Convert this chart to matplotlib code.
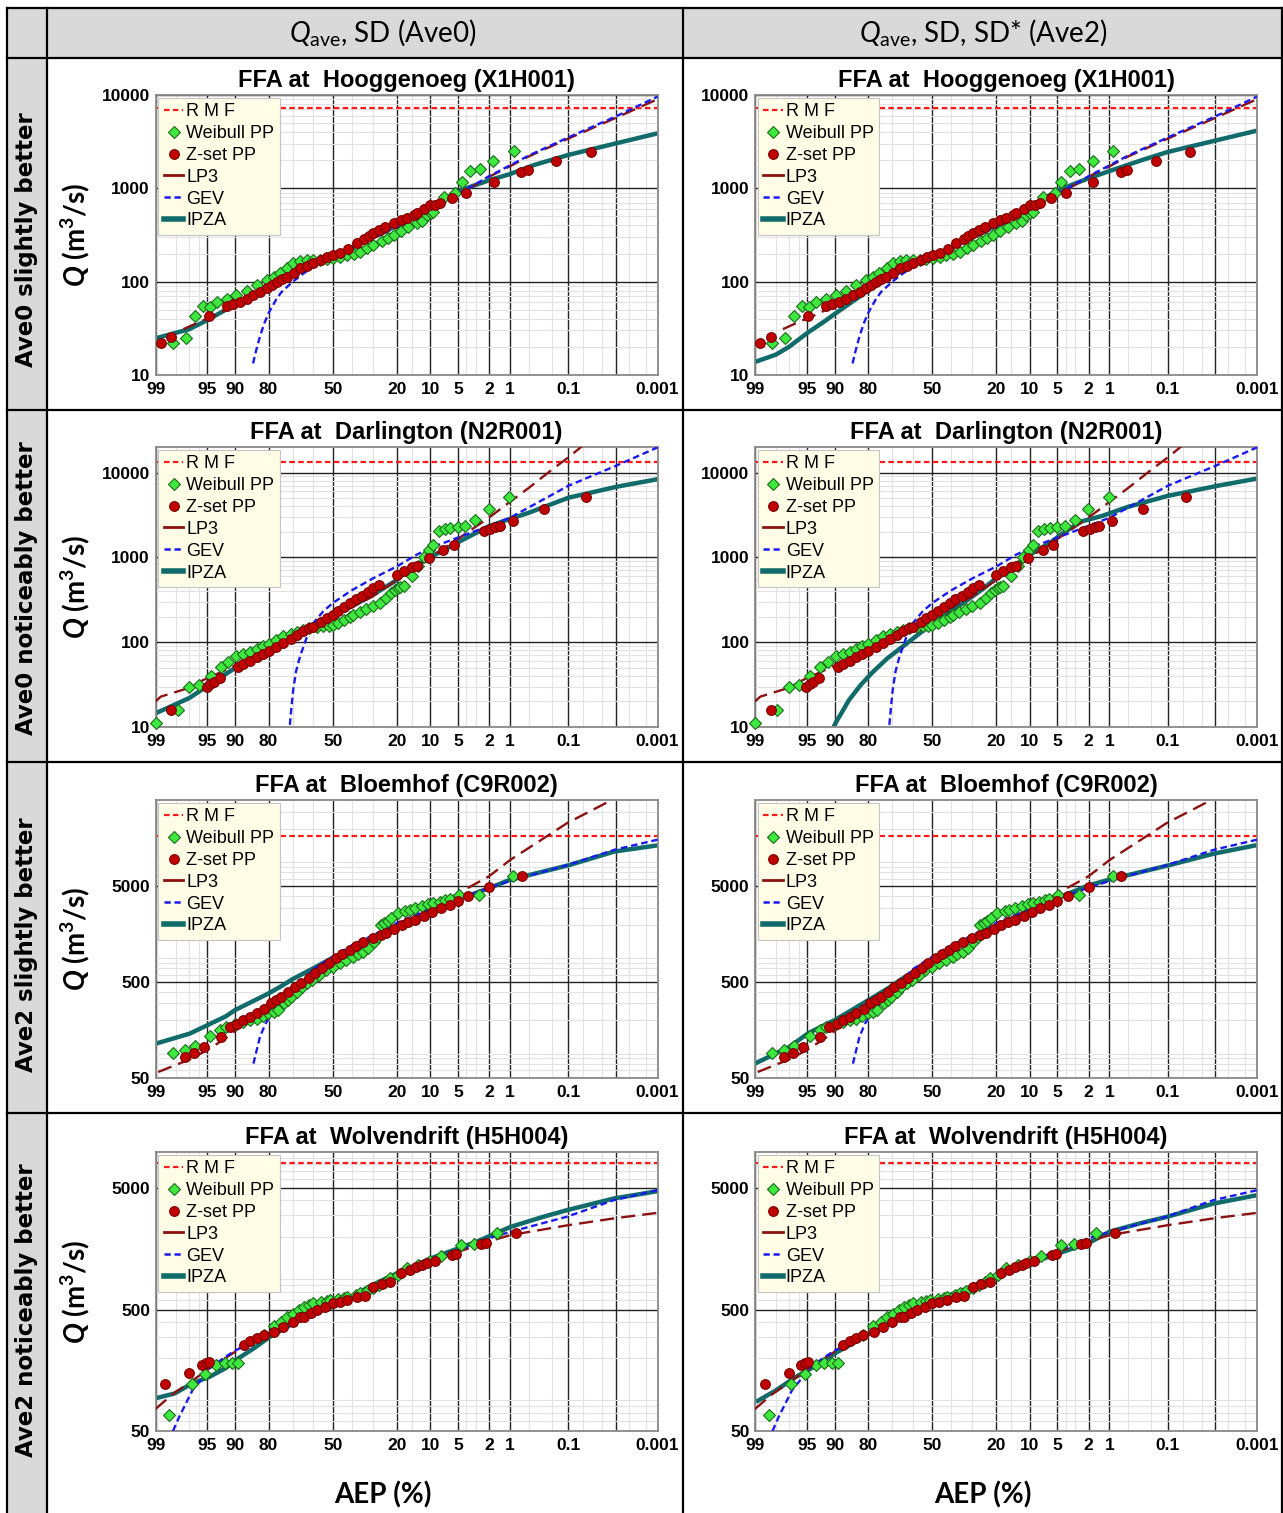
import numpy as np
import matplotlib
matplotlib.use("Agg")
import matplotlib.pyplot as plt
from matplotlib.lines import Line2D
from matplotlib.patches import Rectangle
from matplotlib.ticker import FixedLocator, NullFormatter, LogLocator
from matplotlib import font_manager as fm
from statistics import NormalDist

# ---------------- DATA (AEP in %, Q in m3/s) ----------------
STATIONS = ["FFA at  Hooggenoeg (X1H001)", "FFA at  Darlington (N2R001)",
            "FFA at  Bloemhof (C9R002)", "FFA at  Wolvendrift (H5H004)"]
ROW_LABELS = ["Ave0 slightly better", "Ave0 noticeably better",
              "Ave2 slightly better", "Ave2 noticeably better"]
COL_HEADERS = [r"$\mathit{Q}_{\mathrm{ave}}$, SD (Ave0)",
               r"$\mathit{Q}_{\mathrm{ave}}$, SD, SD* (Ave2)"]
X_TICKS = [99, 95, 90, 80, 50, 20, 10, 5, 2, 1, 0.1, 0.01, 0.001]
X_TICKLABELS = ["99", "95", "90", "80", "50", "20", "10", "5", "2", "1", "0.1", "", "0.001"]
X_MINOR = [98, 97, 96, 70, 60, 40, 30, 15, 4, 3, 0.5, 0.2, 0.05, 0.02, 0.005, 0.002]
Y_LIMS = [(10, 10000), (10, 20000), (50, 40000), (50, 10000)]
Y_TICKS = [[10, 100, 1000, 10000], [10, 100, 1000, 10000], [50, 500, 5000], [50, 500, 5000]]

# Hooggenoeg
HOOG_RMF = 7300
HOOG_WB_AEP = [98.2, 97.3, 96.5, 95.6, 94.7, 93.6, 91.8, 89.7, 87.1, 84.1, 80.7, 78, 75.6, 72.5, 69.8, 66.5,
               63.4, 60, 56.6, 53, 49.6, 46, 42.7, 39, 35.9, 32.5, 29.6, 26, 23.5, 21.2, 18.5, 16, 13.5, 12,
               10.8, 9.85, 9.3, 7.2, 5.38, 4.48, 3.54, 2.69, 1.76, 0.875]
HOOG_WB_Q = [21.8, 25, 43, 55, 54, 60, 66, 72, 80, 92, 104, 113, 123, 140, 157, 165,
             171, 172, 171, 175, 178, 185, 193, 200, 210, 228, 247, 275, 295, 316, 350, 385, 422, 450,
             518, 540, 562, 801, 900, 1179, 1534, 1600, 1977, 2512]
HOOG_ZS_AEP = [98.8, 98.3, 94.8, 91.8, 90.5, 88.9, 87, 85.2, 83, 80.7, 78.8, 76.9, 74.8, 72.7, 69.5, 66.6,
               63.2, 60, 56, 52.8, 49.6, 46, 42, 37.6, 34, 31.7, 29.6, 27, 24.5, 21.2, 18.5, 16.5, 14.4,
               13.5, 11.5, 10, 8.9, 7.9, 5.87, 3.97, 1.73, 0.67, 0.52, 0.167, 0.0355]
HOOG_ZS_Q = [21.8, 25.4, 42.9, 54.8, 58, 61, 66, 72, 78, 85, 92, 100, 106, 113, 125, 139,
             148, 157, 170, 182, 193, 205, 225, 258, 285, 305, 330, 360, 385, 422, 455, 485, 518,
             540, 600, 663, 663, 702, 782, 899, 1159, 1484, 1572, 1963, 2472]
HOOG_LP3_AEP = [97.5, 96, 93, 90, 85, 80, 70, 60, 50, 40, 30, 20, 10, 5, 2, 1, 0.5, 0.1, 0.01, 0.001]
HOOG_LP3_Q = [31, 37, 46, 57, 72, 88, 120, 150, 185, 230, 290, 380, 570, 850, 1330, 1720, 2200, 3400, 5700, 9000]
HOOG_GEV_AEP = [85.2, 84.5, 83, 81.5, 80, 77, 75, 70, 65, 60, 50, 40, 30, 20, 10, 5, 2, 1, 0.5, 0.1, 0.01, 0.001]
HOOG_GEV_Q = [13.3, 17, 26, 36, 46, 65, 77, 100, 122, 145, 187, 232, 292, 385, 580, 860, 1350, 1760, 2250,
              3500, 5900, 9600]
HOOG_IPZA0_AEP = [99, 97, 95, 92, 90, 85, 80, 70, 60, 50, 40, 30, 20, 10, 5, 4, 2, 1, 0.41, 0.1, 0.01, 0.001]
HOOG_IPZA0_Q = [24.7, 31, 38.8, 50, 58, 72, 88, 122, 152, 185, 232, 300, 400, 610, 930, 1000, 1220, 1420,
                1778, 2275, 3033, 3880]
HOOG_IPZA2_AEP = [99, 98, 97, 95, 92, 90, 85, 80, 70, 60, 50, 40, 30, 20, 10, 5, 2, 1, 0.3, 0.1, 0.01, 0.001]
HOOG_IPZA2_Q = [13.8, 16.5, 20, 28, 38, 45, 62, 80, 115, 150, 185, 232, 300, 400, 620, 950, 1280, 1530, 2000,
                2450, 3250, 4150]

# Darlington
DARL_RMF = 13150
DARL_WB_AEP = [99.0, 97.9, 97.0, 96.0, 94.5, 92.9, 91.5, 89.7, 88, 86, 84, 82, 80, 77, 74.2, 71, 68, 65, 62,
               58, 55, 52, 50, 47, 44, 41, 39.3, 36, 33, 30, 26.7, 24, 22, 20.5, 19.5, 18.8, 17.6, 15, 13,
               11.6, 10.2, 9.3, 8.2, 7.1, 6.14, 5.05, 4.08, 3.06, 2.03, 1.02]
DARL_WB_Q = [11, 15.9, 30, 31.3, 40, 50.7, 59, 67.8, 72, 77, 83, 89, 96, 106, 117, 124, 131, 138, 145,
             150, 154, 157, 160, 170, 182, 196, 210, 228, 246, 265, 289, 330, 375, 410, 430, 445, 454, 600, 782,
             1000, 1233, 1413, 2033, 2168, 2229, 2290, 2372, 2748, 3673, 5140]
DARL_ZS_AEP = [98.3, 95.1, 94.6, 94.1, 93.1, 89.3, 88, 86, 84, 82, 80, 77, 74.2, 71, 68, 65, 62, 60, 56, 53,
               50, 47, 44, 41, 38, 35, 32, 29.6, 27, 20, 17.6, 14.9, 13.5, 10.4, 7.3, 5.63, 2.37, 1.92, 1.63,
               1.42, 0.906, 0.28, 0.0436]
DARL_ZS_Q = [15.9, 30, 32, 34, 37.6, 51.6, 55, 60, 66, 72, 78, 88, 97, 110, 122, 135, 145, 153, 175, 192,
             210, 235, 260, 290, 320, 350, 390, 434, 470, 624, 682, 760, 800, 982, 1211, 1413, 2070, 2188, 2290,
             2372, 2673, 3673, 5140]
DARL_LP3_AEP = [99, 98.8, 97, 95.5, 93, 90, 85, 80, 70, 60, 50, 40, 30, 20, 10, 5, 2, 1, 0.5, 0.2, 0.1, 0.05]
DARL_LP3_Q = [20, 22.8, 29, 35.9, 44, 53, 68, 84, 118, 155, 200, 260, 345, 540, 1000, 1650, 2950, 4500, 6600,
              10800, 15000, 21000]
DARL_GEV_AEP = [71.3, 70.5, 69.8, 68.5, 66.6, 63, 60, 55, 50, 40, 29.6, 20, 13.5, 10, 5, 2, 1, 0.1, 0.01, 0.001]
DARL_GEV_Q = [10.6, 18, 27.3, 45, 67.8, 120, 168, 230, 289, 410, 570, 780, 1075, 1290, 1710, 2355, 2925, 6950,
              12000, 19770]
DARL_IPZA0_AEP = [99, 97, 95.1, 92, 89.7, 85, 80, 70, 60, 50, 40, 30, 20, 17.6, 15, 10.4, 7.3, 5.63, 2, 0.98,
                  0.5, 0.097, 0.0093, 0.001]
DARL_IPZA0_Q = [14.5, 22, 30, 42, 50.7, 66, 86, 122, 162, 205, 265, 360, 540, 640, 740, 982, 1211, 1413, 2333,
                2851, 3360, 5060, 6823, 8340]
DARL_IPZA2_AEP = [90.2, 89.5, 88.4, 86.3, 82.7, 78.5, 72.2, 65.1, 57.5, 50, 40, 32, 25, 19.2, 14, 9.3, 6, 4.24,
                  2.5, 1.3, 0.5, 0.1, 0.0093, 0.001]
DARL_IPZA2_Q = [10, 11.8, 14.4, 20.7, 31, 43.6, 64.5, 88.6, 122, 165, 235, 316, 430, 598, 800, 1130, 1500, 1950,
                2650, 3070, 3950, 5300, 6950, 8490]

# Bloemhof
BLOE_RMF = 16900
BLOE_WB_AEP = [98.2, 97.4, 96.5, 94.6, 93, 91.9, 90, 88, 86, 84, 82, 80.2, 78, 76.5, 73.7, 72, 70.6, 68, 65.8,
               63, 60.7, 57, 53.6, 50, 46.4, 43, 39.4, 37, 34.3, 32, 29.4, 27.5, 26.4, 25, 23.5, 22, 19.6, 17,
               15.5, 13.9, 12, 10.5, 9.3, 8, 7, 6.25, 4.92, 2.73, 0.894]
BLOE_WB_Q = [91.5, 99, 107, 137, 158, 171, 182, 193, 200, 209, 222, 236, 245, 256, 300, 325, 352, 400, 449,
             490, 527, 600, 670, 730, 787, 850, 925, 980, 1042, 1150, 1327, 1500, 1985, 2100, 2200, 2350, 2630,
             2750, 2850, 2965, 3100, 3250, 3350, 3480, 3600, 3690, 4090, 4060, 6365]
BLOE_ZS_AEP = [97.4, 96.6, 95.5, 92.9, 91.2, 89.5, 88, 86, 84, 81.5, 79.2, 77, 75.1, 72, 69.1, 66, 62.4, 59,
               55.4, 52, 48.2, 45, 41.1, 38, 34.3, 30, 26.4, 24, 21, 18.3, 16, 13.9, 11.5, 9.5, 7.8, 6.25, 5,
               3.74, 2.0, 0.65]
BLOE_ZS_Q = [83, 91.5, 106, 134, 171, 185, 201, 218, 236, 265, 300, 325, 352, 400, 449, 495, 549, 620,
             698, 790, 889, 980, 1086, 1200, 1327, 1450, 1560, 1650, 1800, 1985, 2120, 2240, 2480, 2735, 2975,
             3215, 3500, 3990, 4890, 6370]
BLOE_LP3_AEP = [98.9, 97, 95, 92, 90, 85, 80, 70, 60, 50, 40, 30, 20, 10, 4.92, 2, 0.98, 0.3, 0.104, 0.012]
BLOE_LP3_Q = [57.8, 78, 98, 130, 155, 215, 280, 420, 590, 820, 1080, 1420, 1980, 2850, 4260, 6400, 9500,
              15500, 22970, 40300]
BLOE_GEV_AEP = [85.1, 84, 83, 81.1, 78.5, 76.5, 70.6, 65, 60.7, 50, 40, 34.3, 20.2, 10, 5, 2, 1, 0.1, 0.0107, 0.001]
BLOE_GEV_Q = [70.6, 100, 135, 185, 240, 277, 382, 520, 670, 925, 1220, 1383, 2065, 2950, 3700, 4850, 5700,
              8400, 12100, 15400]
BLOE_IPZA0_AEP = [99, 97, 95, 92, 90, 85, 80, 75, 70, 60, 50, 40, 26.4, 18.3, 10, 5, 2, 1, 0.1, 0.0107, 0.001]
BLOE_IPZA0_Q = [114, 145, 178, 220, 256, 320, 382, 455, 540, 700, 900, 1100, 1622, 1985, 2800, 3650, 4800, 5870,
                8300, 11600, 13430]
BLOE_IPZA2_AEP = [99, 97, 94.8, 92, 89.9, 85, 79.6, 72, 65.9, 58, 50, 35, 19.8, 9.6, 5, 2.0, 1, 0.095, 0.0106, 0.001]
BLOE_IPZA2_Q = [70.8, 105, 147, 180, 202, 262, 329, 430, 534, 680, 860, 1300, 1940, 2910, 3800, 5130, 5900, 8320,
                11040, 13520]

# Wolvendrift
WOLV_RMF = 8190
WOLV_WB_AEP = [98.4, 96.8, 95.3, 93.7, 92.2, 90.6, 89.2, 81.8, 78, 75, 72.5, 69.8, 67, 64.5, 62, 60, 56, 53,
               51.4, 47, 44, 42.4, 38, 35.9, 32.7, 29.8, 27, 24.5, 22.5, 19.5, 16.6, 13, 10, 7.7, 4.57, 3.16, 1.55]
WOLV_WB_Q = [67.8, 121, 149, 175, 181, 181, 181, 309, 365, 400, 438, 463, 500, 530, 545, 564, 580, 590,
             601, 612, 628, 640, 660, 682, 710, 750, 800, 850, 906, 960, 1096, 1180, 1260, 1384, 1706, 1738, 2128]
WOLV_ZS_AEP = [98.6, 97.0, 95.7, 95.2, 94.8, 87.8, 86, 84, 81.8, 77.9, 74.2, 70, 66.6, 64.5, 61, 58, 54, 50,
               46.2, 42.4, 37.6, 33.8, 29.8, 26, 22.5, 18.4, 15.5, 13.7, 12, 10.8, 9, 5.8, 5.2, 2.54, 2.2, 0.81]
WOLV_ZS_Q = [121, 151, 175, 181, 184, 256, 275, 290, 309, 330, 362, 400, 434, 438, 470, 497, 530, 564,
             578, 601, 637, 650, 774, 820, 851, 996, 1060, 1130, 1160, 1205, 1260, 1410, 1430, 1738, 1760, 2128]
WOLV_LP3_AEP = [99, 98.2, 97, 95, 90, 80, 70, 60, 50, 40, 30, 20, 10, 5, 2, 1, 0.1, 0.01, 0.001]
WOLV_LP3_Q = [76, 101, 125, 160, 225, 318, 410, 490, 565, 640, 745, 920, 1230, 1500, 1830, 2060, 2490, 2850, 3150]
WOLV_GEV_AEP = [98.2, 97.8, 96.7, 95.5, 94.7, 92, 90, 85, 80, 70, 60, 50, 40, 30, 20, 10, 5, 2, 0.97, 0.106,
                0.011, 0.001]
WOLV_GEV_Q = [50, 65.6, 109, 140, 165, 205, 230, 275, 318, 410, 490, 565, 640, 745, 930, 1240, 1540, 1940,
              2200, 2923, 4010, 4840]
WOLV_IPZA0_AEP = [99, 98.1, 96.7, 94.7, 92, 89.9, 85, 79.5, 72, 64.5, 50, 40, 31.8, 20, 10, 5, 2.97, 0.97, 0.3,
                  0.106, 0.011, 0.001]
WOLV_IPZA0_Q = [93, 102, 124, 140, 165, 192, 240, 299, 365, 437, 529, 640, 774, 996, 1323, 1600, 1815, 2415,
                2900, 3310, 4140, 4750]
WOLV_IPZA2_AEP = [98.96, 98, 96.3, 93, 90, 85, 79.6, 72, 66.5, 50, 35, 19.9, 10, 5, 2.04, 1.0, 0.3, 0.103, 0.011,
                  0.001]
WOLV_IPZA2_Q = [87, 108, 140, 180, 218, 265, 319, 400, 466, 582, 720, 935, 1205, 1450, 1762, 2198, 2600, 2918,
                3756, 4404]

DATA = [
    dict(rmf=HOOG_RMF, wb=(HOOG_WB_AEP, HOOG_WB_Q), zs=(HOOG_ZS_AEP, HOOG_ZS_Q), lp3=(HOOG_LP3_AEP, HOOG_LP3_Q),
         gev=(HOOG_GEV_AEP, HOOG_GEV_Q), ipza=[(HOOG_IPZA0_AEP, HOOG_IPZA0_Q), (HOOG_IPZA2_AEP, HOOG_IPZA2_Q)]),
    dict(rmf=DARL_RMF, wb=(DARL_WB_AEP, DARL_WB_Q), zs=(DARL_ZS_AEP, DARL_ZS_Q), lp3=(DARL_LP3_AEP, DARL_LP3_Q),
         gev=(DARL_GEV_AEP, DARL_GEV_Q), ipza=[(DARL_IPZA0_AEP, DARL_IPZA0_Q), (DARL_IPZA2_AEP, DARL_IPZA2_Q)]),
    dict(rmf=BLOE_RMF, wb=(BLOE_WB_AEP, BLOE_WB_Q), zs=(BLOE_ZS_AEP, BLOE_ZS_Q), lp3=(BLOE_LP3_AEP, BLOE_LP3_Q),
         gev=(BLOE_GEV_AEP, BLOE_GEV_Q), ipza=[(BLOE_IPZA0_AEP, BLOE_IPZA0_Q), (BLOE_IPZA2_AEP, BLOE_IPZA2_Q)]),
    dict(rmf=WOLV_RMF, wb=(WOLV_WB_AEP, WOLV_WB_Q), zs=(WOLV_ZS_AEP, WOLV_ZS_Q), lp3=(WOLV_LP3_AEP, WOLV_LP3_Q),
         gev=(WOLV_GEV_AEP, WOLV_GEV_Q), ipza=[(WOLV_IPZA0_AEP, WOLV_IPZA0_Q), (WOLV_IPZA2_AEP, WOLV_IPZA2_Q)]),
]

# ---------------- STYLE ----------------
_fonts = fm.fontManager.ttflist
names = {f.name for f in _fonts}


def _has_italic(fam):
    return any(f.name == fam and f.style in ("italic", "oblique") for f in _fonts)


TEXT_FAM = "Lato" if "Lato" in names else "DejaVu Sans"
IT_FAM = next((f for f in ["Lato", "Open Sans", "Roboto", "Liberation Sans", "DejaVu Sans"] if _has_italic(f)),
              "DejaVu Sans")
plt.rcParams.update({
    "mathtext.fontset": "custom",
    "mathtext.rm": TEXT_FAM,
    "mathtext.it": IT_FAM + ":italic",
    "mathtext.bf": TEXT_FAM + ":bold",
    "mathtext.bfit": IT_FAM + ":italic:bold",
})
TICK_FAMILY = "Liberation Sans Narrow" if "Liberation Sans Narrow" in names else "Liberation Sans"
TICK_SIZE = 13.5 if TICK_FAMILY == "Liberation Sans Narrow" else 12.5

C_RMF = "#ff1a1a"
C_WB_FACE, C_WB_EDGE = "#3ee83e", "#1d6b1d"
C_ZS_FACE, C_ZS_EDGE = "#c00000", "#7a0000"
C_LP3 = "#8b1212"
C_GEV = "#1a1aee"
C_IPZA = "#116b6b"

_N = NormalDist()
_ppf = np.vectorize(_N.inv_cdf, otypes=[float])
_cdf = np.vectorize(_N.cdf, otypes=[float])


def fwd(a):
    # normal-probability scale: AEP (%) -> standard normal variate
    a = np.asarray(a, dtype=float)
    p = np.clip(a / 100.0, 1e-12, 1 - 1e-12)
    return _ppf(p)


def inv(z):
    z = np.asarray(z, dtype=float)
    return 100.0 * _cdf(z)


W, H = 1283, 1513
fig = plt.figure(figsize=(W / 100, H / 100), dpi=100)


def fx(x):
    return x / W


def fy(y):
    return 1 - y / H


# table background
fig.patches.append(Rectangle((fx(7), fy(58)), fx(1282) - fx(7), fy(8) - fy(58),
                             transform=fig.transFigure, facecolor="#d9d9d9", edgecolor="none", zorder=0))
fig.patches.append(Rectangle((fx(7), fy(1513)), fx(47) - fx(7), fy(58) - fy(1513),
                             transform=fig.transFigure, facecolor="#d9d9d9", edgecolor="none", zorder=0))
for (x0, y0, x1, y1) in [(7, 8, 1282, 8), (7, 58, 1282, 58), (7, 410, 1282, 410), (7, 762, 1282, 762),
                         (7, 1113, 1282, 1113), (7, 8, 7, 1513), (47, 8, 47, 1513), (683, 8, 683, 1513),
                         (1282, 8, 1282, 1513)]:
    fig.add_artist(Line2D([fx(x0), fx(x1)], [fy(y0), fy(y1)], transform=fig.transFigure,
                          color="black", lw=1.6, zorder=1))

# headers
for cx, txt in zip([383, 983], COL_HEADERS):
    fig.text(fx(cx), fy(33), txt, ha="center", va="center", fontsize=20, family=TEXT_FAM)

ROW_Y = [(95, 375), (447, 727), (800, 1078), (1152, 1431)]
COL_X = [(155.5, 657.5), (755, 1257)]
ROW_LABEL_Y = [240, 588, 945, 1310]

for r, lab in enumerate(ROW_LABELS):
    fig.text(fx(27), fy(ROW_LABEL_Y[r]), lab, rotation=90, ha="center", va="center",
             fontsize=16.5, fontweight="bold", family="DejaVu Sans")

legend_handles = [
    Line2D([], [], color=C_RMF, ls=(0, (2.5, 1.5)), lw=1.6),
    Line2D([], [], ls="none", marker="D", ms=6, mfc=C_WB_FACE, mec=C_WB_EDGE, mew=0.8),
    Line2D([], [], ls="none", marker="o", ms=7, mfc=C_ZS_FACE, mec=C_ZS_EDGE, mew=0.8),
    Line2D([], [], color=C_LP3, lw=2),
    Line2D([], [], color=C_GEV, ls=(0, (2.5, 1.5)), lw=1.8),
    Line2D([], [], color=C_IPZA, lw=4),
]
legend_labels = ["R M F", "Weibull PP", "Z-set PP", "LP3", "GEV", "IPZA"]

for r in range(4):
    d = DATA[r]
    for c in range(2):
        x0, x1 = COL_X[c]
        y0, y1 = ROW_Y[r]
        ax = fig.add_axes([fx(x0), fy(y1), (x1 - x0) / W, (y1 - y0) / H])
        ax.set_xscale("function", functions=(fwd, inv))
        ax.set_yscale("log")
        ax.set_xlim(99, 0.001)
        ax.set_ylim(*Y_LIMS[r])
        ax.set_axisbelow(True)

        ax.set_xticks(X_TICKS)
        ax.set_xticklabels(X_TICKLABELS)
        ax.xaxis.set_minor_locator(FixedLocator(X_MINOR))
        ax.xaxis.set_minor_formatter(NullFormatter())
        ax.set_yticks(Y_TICKS[r])
        ax.set_yticklabels([str(v) for v in Y_TICKS[r]])
        ax.yaxis.set_minor_locator(LogLocator(base=10, subs=np.arange(2, 10)))
        ax.yaxis.set_minor_formatter(NullFormatter())
        ax.tick_params(which="both", length=0)
        ax.tick_params(axis="x", pad=5)
        ax.tick_params(axis="y", pad=4)
        for lbl in ax.get_xticklabels() + ax.get_yticklabels():
            lbl.set_fontfamily(TICK_FAMILY)
            lbl.set_fontweight("bold")
            lbl.set_fontsize(TICK_SIZE)
        ax.grid(which="minor", color="#e2e2e2", lw=0.8)
        ax.grid(which="major", color="#222222", lw=1.0)
        for sp in ax.spines.values():
            sp.set_color("#8a8a8a")
            sp.set_linewidth(1.3)

        # curves
        ax.axhline(d["rmf"], color=C_RMF, ls=(0, (2.5, 1.5)), lw=1.6, zorder=2)
        ia, iq = d["ipza"][c]
        ax.plot(ia, iq, color=C_IPZA, lw=3.2, zorder=2.5, solid_capstyle="butt", solid_joinstyle="round")
        la, lq = d["lp3"]
        ax.plot(la, lq, color=C_LP3, lw=1.7, ls=(0, (6, 3)), zorder=2.6)
        ga, gq = d["gev"]
        ax.plot(ga, gq, color=C_GEV, lw=1.7, ls=(0, (2.8, 1.6)), zorder=2.7)
        # points
        wa, wq = d["wb"]
        ax.plot(wa, wq, ls="none", marker="D", ms=6.2, mfc=C_WB_FACE, mec=C_WB_EDGE, mew=0.8,
                zorder=4, clip_on=False)
        za, zq = d["zs"]
        ax.plot(za, zq, ls="none", marker="o", ms=7, mfc=C_ZS_FACE, mec=C_ZS_EDGE, mew=0.8,
                zorder=4.5, clip_on=False)

        ax.set_title(STATIONS[r], fontsize=17, fontweight="bold", family="Liberation Sans", pad=6)

        leg = ax.legend(legend_handles, legend_labels, loc="upper left", bbox_to_anchor=(0, 1),
                        borderaxespad=0.15, frameon=True, fancybox=False, framealpha=1,
                        facecolor="#fffde6", edgecolor="#c4c4c4", prop={"family": "Liberation Sans", "size": 13},
                        handlelength=1.1, handletextpad=0.15, labelspacing=0.27, borderpad=0.3)
        leg.set_zorder(10)
        leg.get_frame().set_linewidth(0.8)

        if c == 0:
            fig.text(fx(75), fy((y0 + y1) / 2), r"$\mathbfit{Q}$ (m$^{\mathbf{3}}$/s)", rotation=90,
                     ha="center", va="center", fontsize=20, fontweight="bold", family=TEXT_FAM)

for cx in [383, 983]:
    fig.text(fx(cx), fy(1495), "AEP (%)", ha="center", va="center", fontsize=20,
             fontweight="bold", family=TEXT_FAM)

fig.savefig("out.png", dpi=100)
